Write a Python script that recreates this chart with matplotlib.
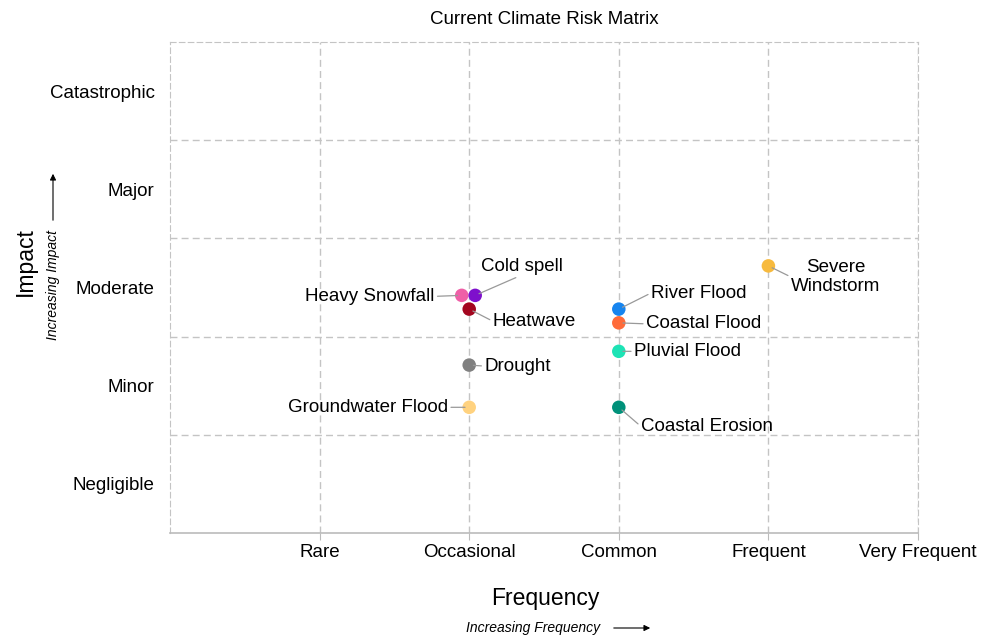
import matplotlib.pyplot as plt

plt.rcParams['font.family'] = ['Liberation Sans', 'DejaVu Sans']

# risk data
risks = ["Severe\nWindstorm", "Heavy Snowfall", "Cold spell", "Heatwave", "Drought",
         "Groundwater Flood", "River Flood", "Coastal Flood", "Pluvial Flood", "Coastal Erosion"]
frequency = [4.0, 1.95, 2.04, 2.0, 2.0, 2.0, 3.0, 3.0, 3.0, 3.0]
impact = [2.72, 2.42, 2.42, 2.28, 1.71, 1.28, 2.28, 2.14, 1.85, 1.28]
colours = ["#F7BA3E", "#EF5FA7", "#7E10CC", "#A3061F", "#808080",
           "#FFD27F", "#1785EF", "#FF6B3A", "#1DE3B5", "#00917A"]

freq_labels = ["Rare", "Occasional", "Common", "Frequent", "Very Frequent"]
impact_labels = ["Negligible", "Minor", "Moderate", "Major", "Catastrophic"]

# label placement (offset in pixels, horizontal alignment, leader start on text box)
offsets = [(67, -11, 'center', (0, 0.5)), (-27, -1, 'right', (1, 0.5)),
           (47, 29, 'center', (0.5, 0)), (65, -12, 'center', (0, 0.5)),
           (15, -1, 'left', (0, 0.5)), (-21, 0, 'right', (1, 0.5)),
           (32, 16, 'left', (0, 0.5)), (27, -1, 'left', (0, 0.5)),
           (15, 0, 'left', (0, 0.5)), (22, -19, 'left', (0, 0.5))]

fig = plt.figure(figsize=(9.81, 6.35), dpi=100)
ax = fig.add_axes([170/981, 1 - 533/635, (918 - 170)/981, (533 - 42)/635])

ax.set_xlim(0, 5)
ax.set_ylim(0, 5)

ax.scatter(frequency, impact, c=colours, s=95, zorder=3, edgecolors='none')

for name, x, y, (dx, dy, ha, rp) in zip(risks, frequency, impact, offsets):
    ax.annotate(name, xy=(x, y), xytext=(dx, dy), textcoords='offset pixels',
                ha=ha, va='center', fontsize=13.5, multialignment='center',
                arrowprops=dict(arrowstyle='-', color='#999999', lw=0.9, relpos=rp,
                                shrinkA=0, shrinkB=3))

# axes styling
ax.set_xticks(range(1, 6))
ax.set_xticklabels(freq_labels, fontsize=13.5)
ax.set_yticks([0.5, 1.5, 2.5, 3.5, 4.5])
ax.set_yticklabels(impact_labels, fontsize=13.5, va='center_baseline')
ax.set_yticks([1, 2, 3, 4], minor=True)
ax.tick_params(axis='x', length=5, color='#bbbbbb', pad=3)
ax.tick_params(axis='y', length=0, pad=11, which='both')

ax.grid(axis='x', which='major', linestyle=(0, (5, 3)), color='#c4c4c4', lw=1)
ax.grid(axis='y', which='minor', linestyle=(0, (5, 3)), color='#c4c4c4', lw=1)
ax.set_axisbelow(True)

for side in ['top', 'left', 'right']:
    ax.spines[side].set_linestyle((0, (5, 3)))
    ax.spines[side].set_color('#c4c4c4')
ax.spines['bottom'].set_color('#bbbbbb')
ax.spines['bottom'].set_linewidth(1.2)

ax.set_title("Current Climate Risk Matrix", fontsize=13.5, pad=13)

# axis titles with direction hints
fig.text(545/981, 1 - 598/635, "Frequency", fontsize=16.5, ha='center', va='center')
fig.text(533/981, 1 - 628/635, "Increasing Frequency", fontsize=10, style='italic',
         ha='center', va='center')
ax.annotate('', xy=(653, 7), xytext=(611, 7), xycoords='figure pixels',
            arrowprops=dict(arrowstyle='-|>', color='black', lw=0.8, mutation_scale=9))

fig.text(25/981, 1 - 262/635, "Impact", fontsize=16.5, rotation=90, ha='center', va='center')
fig.text(53/981, 1 - 285/635, "Increasing Impact", fontsize=10, style='italic', rotation=90,
         ha='center', va='center')
ax.annotate('', xy=(53, 464), xytext=(53, 412), xycoords='figure pixels',
            arrowprops=dict(arrowstyle='-|>', color='black', lw=0.8, mutation_scale=9))

fig.savefig("out.png", dpi=100)
